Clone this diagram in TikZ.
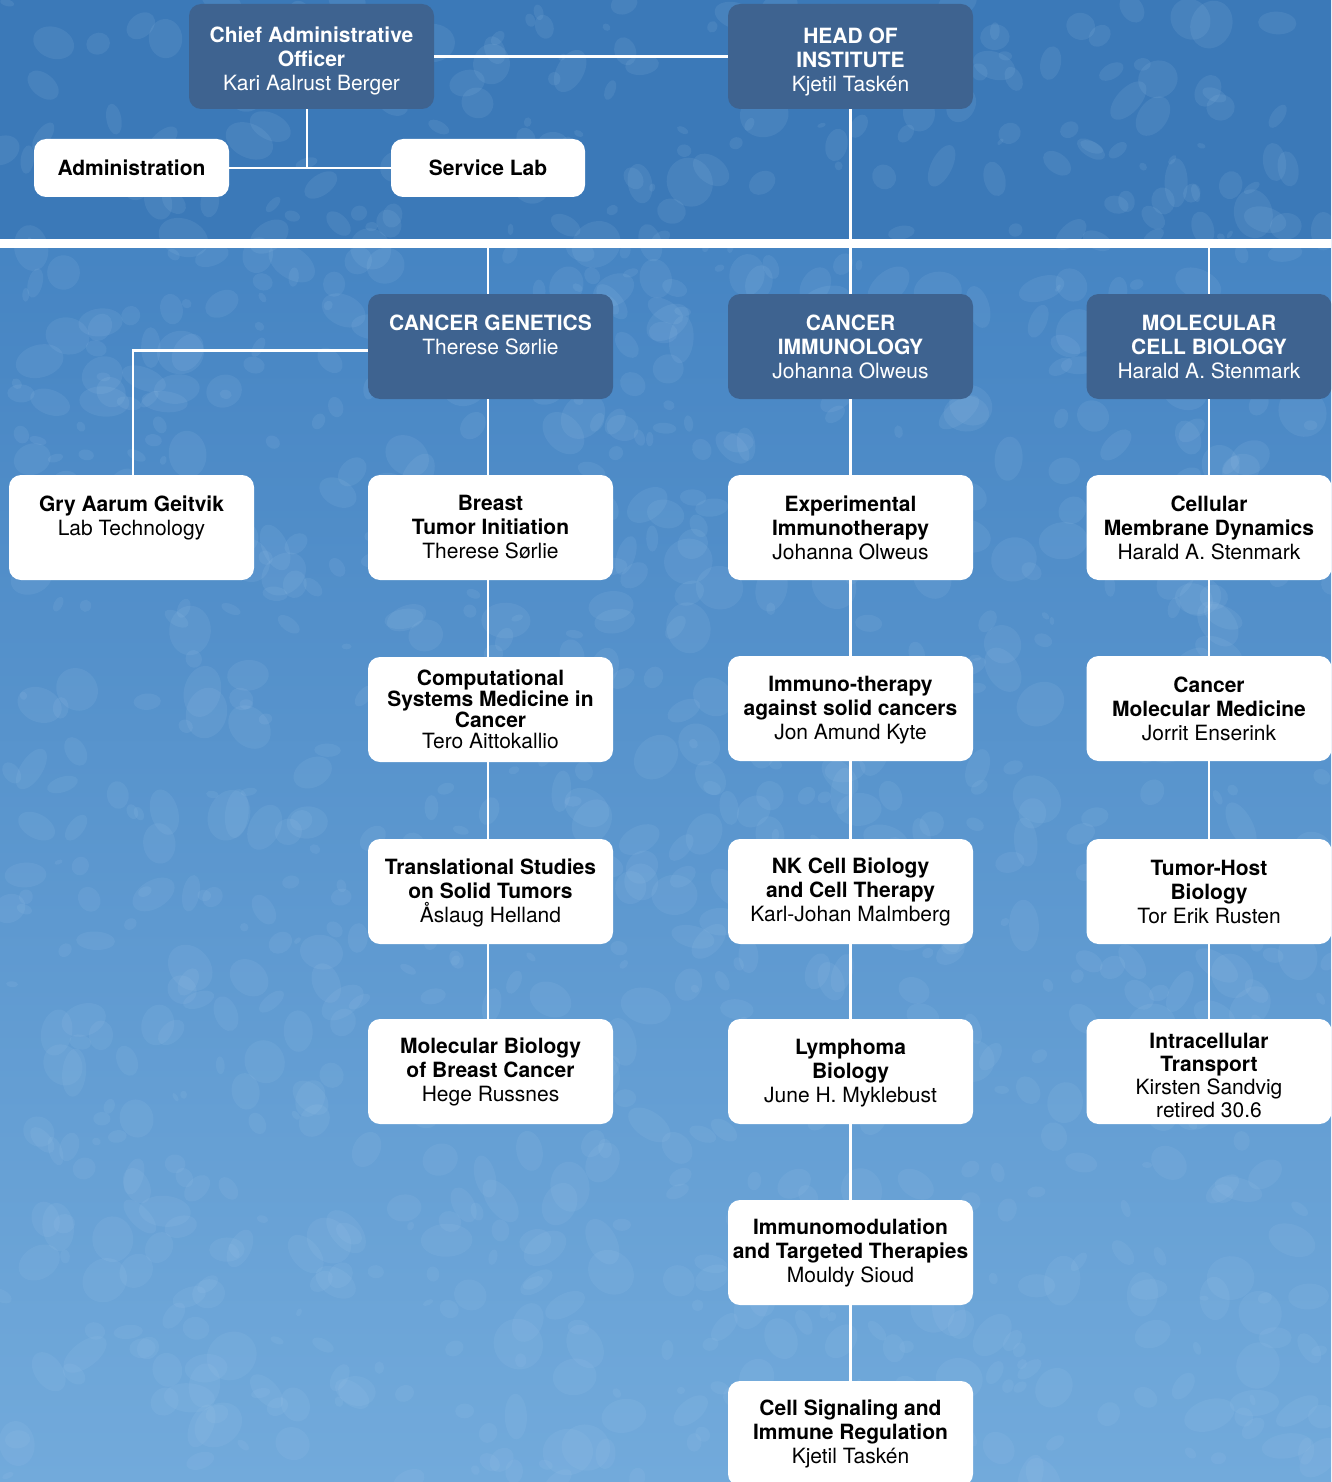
\documentclass[tikz,border=0pt]{standalone}
\usepackage{fontspec}
\setmainfont{TeX Gyre Heros}
\definecolor{boxdark}{HTML}{3E6390}
\definecolor{bgtop}{HTML}{3D7DBE}
\definecolor{bgbot}{HTML}{72AADB}
\definecolor{blot}{HTML}{A9CDEE}
\newcommand\dn[1]{\rule{0pt}{#1pt}}
\tikzset{
  orgbox/.style={rectangle, rounded corners=12, minimum width=245, minimum height=105, inner sep=0, align=center, font=\fontsize{21}{24}\selectfont},
  darkbox/.style={orgbox, fill=boxdark, text=white},
  whitebox/.style={orgbox, fill=white, text=black},
  smallbox/.style={whitebox, minimum height=58},
  conn/.style={draw=white, line width=2.6},
}
\begin{document}
\begin{tikzpicture}[x=1pt,y=-1pt]
\useasboundingbox (0,0) rectangle (1331,1482);
\clip (0,0) rectangle (1331,1482);
% background
\shade[top color=bgtop, bottom color=bgbot] (0,0) rectangle (1331,1482);
\fill[bgtop!97!black] (0,0) rectangle (1331,240);
\pgfmathsetseed{11}
\foreach \i in {1,...,1100}{
  \pgfmathsetmacro{\xx}{rnd*1331}
  \pgfmathsetmacro{\yy}{rnd*1482}
  \pgfmathsetmacro{\aa}{4+rnd*22}
  \pgfmathsetmacro{\bb}{\aa*(0.45+rnd*0.5)}
  \pgfmathsetmacro{\rr}{rnd*180}
  \fill[blot, opacity=0.11, rotate around={\rr:(\xx,\yy)}] (\xx,\yy) ellipse [x radius=\aa, y radius=\bb];
}
% band
\node[fill=white, minimum width=1331, minimum height=9, inner sep=0] (band) at (665.5,243.5) {};
% top level
\node[darkbox] (cao) at (311.5,56.5) {\dn{24}\textbf{Chief Administrative}\\\textbf{Officer}\\Kari Aalrust Berger};
\node[darkbox] (head) at (850.5,56.5) {\dn{26}\textbf{HEAD OF}\\\textbf{INSTITUTE}\\Kjetil Taskén};
\node[smallbox, minimum width=195] (admin) at (131.5,168) {\textbf{Administration}};
\node[smallbox, minimum width=194] (service) at (488,168) {\textbf{Service Lab}};
% departments
\node[darkbox] (cg) at (490.5,346.5) {\textbf{CANCER GENETICS}\\Therese Sørlie\\~};
\node[darkbox] (ci) at (850.5,346.5) {\textbf{CANCER}\\\textbf{IMMUNOLOGY}\\Johanna Olweus};
\node[darkbox] (mcb) at (1209,346.5) {\textbf{MOLECULAR}\\\textbf{CELL BIOLOGY}\\Harald A. Stenmark};
% cancer genetics column
\node[whitebox] (gry) at (131.5,527.5) {\textbf{Gry Aarum Geitvik}\\Lab Technology\\~};
\node[whitebox] (g1) at (490.5,527.5) {\textbf{Breast}\\\textbf{Tumor Initiation}\\Therese Sørlie};
\node[whitebox, font=\fontsize{21}{21}\selectfont] (g2) at (490.5,709.5) {\textbf{Computational}\\\textbf{Systems Medicine in}\\\textbf{Cancer}\\Tero Aittokallio};
\node[whitebox] (g3) at (490.5,891.5) {\dn{19}\textbf{Translational Studies}\\\textbf{on Solid Tumors}\\Åslaug Helland};
\node[whitebox] (g4) at (490.5,1071.5) {\textbf{Molecular Biology}\\\textbf{of Breast Cancer}\\Hege Russnes};
% cancer immunology column
\node[whitebox] (i1) at (850.5,527.5) {\textbf{Experimental}\\\textbf{Immunotherapy}\\Johanna Olweus};
\node[whitebox] (i2) at (850.5,708.5) {\dn{19}\textbf{Immuno-therapy}\\\textbf{against solid cancers}\\Jon Amund Kyte};
\node[whitebox] (i3) at (850.5,891.5) {\textbf{NK Cell Biology}\\\textbf{and Cell Therapy}\\Karl-Johan Malmberg};
\node[whitebox] (i4) at (850.5,1071.5) {\dn{19}\textbf{Lymphoma}\\\textbf{Biology}\\June H. Myklebust};
\node[whitebox] (i5) at (850.5,1252.5) {\textbf{Immunomodulation}\\\textbf{and Targeted Therapies}\\Mouldy Sioud};
\node[whitebox] (i6) at (850.5,1433.5) {\textbf{Cell Signaling and}\\\textbf{Immune Regulation}\\Kjetil Taskén};
% molecular cell biology column
\node[whitebox] (m1) at (1209,527.5) {\textbf{Cellular}\\\textbf{Membrane Dynamics}\\Harald A. Stenmark};
\node[whitebox] (m2) at (1209,708.5) {\textbf{Cancer}\\\textbf{Molecular Medicine}\\Jorrit Enserink};
\node[whitebox] (m3) at (1209,891.5) {\textbf{Tumor-Host}\\\textbf{Biology}\\Tor Erik Rusten};
\node[whitebox, font=\fontsize{21}{23}\selectfont] (m4) at (1209,1071.5) {\dn{23}\textbf{Intracellular}\\\textbf{Transport}\\Kirsten Sandvig\\retired 30.6};
% connectors
\draw[conn] (cao.east) -- (head.west);
\draw[conn] ([xshift=-4.5]cao.south) -- ([xshift=-4.5]cao.south |- admin.east);
\draw[conn] (admin.east) -- (service.west);
\draw[conn] (head.south) -- (head.south |- band.north);
\draw[conn] ([xshift=-2.5]cg.north |- band.south) -- ([xshift=-2.5]cg.north);
\draw[conn] (ci.north |- band.south) -- (ci.north);
\draw[conn] (mcb.north |- band.south) -- (mcb.north);
\draw[conn] ([yshift=-4]cg.west) -| ([xshift=1.5]gry.north);
\foreach \a/\b in {cg/g1,g1/g2,g2/g3,g3/g4}{
  \draw[conn] ([xshift=-2.5]\a.south) -- ([xshift=-2.5]\b.north);
}
\foreach \a/\b in {ci/i1,i1/i2,i2/i3,i3/i4,i4/i5,i5/i6,mcb/m1,m1/m2,m2/m3,m3/m4}{
  \draw[conn] (\a.south) -- (\b.north);
}
\end{tikzpicture}
\end{document}
